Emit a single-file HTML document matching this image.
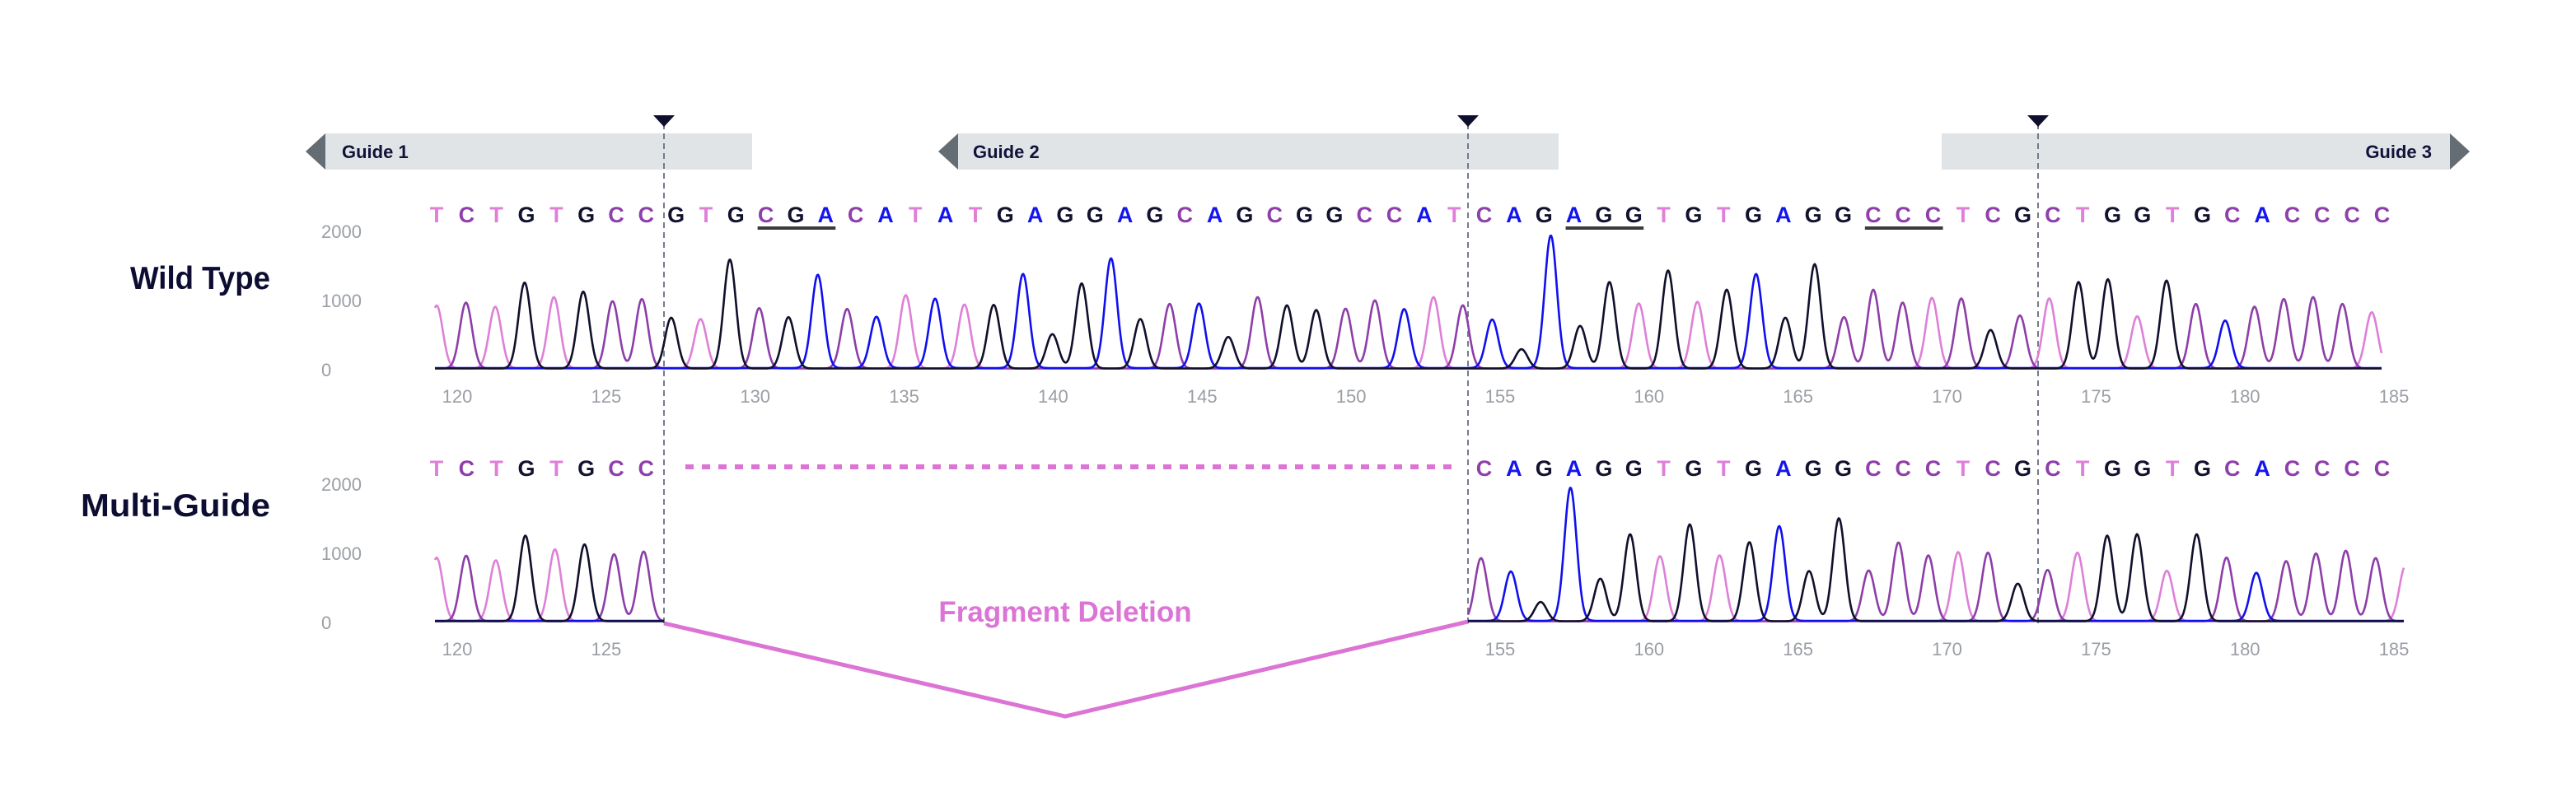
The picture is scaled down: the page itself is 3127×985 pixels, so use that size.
<!DOCTYPE html>
<html><head><meta charset="utf-8">
<style>
html,body{margin:0;padding:0;background:#fff;}
svg{display:block;font-family:"Liberation Sans",Arial,sans-serif;}
</style></head>
<body>
<svg id="chart" width="3127" height="985" viewBox="0 0 3127 985" xmlns="http://www.w3.org/2000/svg">
<rect x="0" y="0" width="3127" height="985" fill="#fff"/>
<g id="guides">
  <g>
    <rect x="395" y="162" width="518" height="44" fill="#e1e4e7"/>
    <polygon points="395,162 395,206 371,184" fill="#646c74"/>
    <text x="415" y="192" font-size="22" font-weight="bold" fill="#12123a">Guide 1</text>
  </g>
  <g>
    <rect x="1163" y="162" width="729" height="44" fill="#e1e4e7"/>
    <polygon points="1163,162 1163,206 1139,184" fill="#646c74"/>
    <text x="1181" y="192" font-size="22" font-weight="bold" fill="#12123a">Guide 2</text>
  </g>
  <g>
    <rect x="2357" y="162" width="617" height="44" fill="#e1e4e7"/>
    <polygon points="2974,162 2974,206 2998,184" fill="#646c74"/>
    <text x="2952" y="192" font-size="22" font-weight="bold" fill="#12123a" text-anchor="end">Guide 3</text>
  </g>
</g>
<text x="328" y="351" font-size="39" font-weight="bold" fill="#0d0d33" text-anchor="end" textLength="170" lengthAdjust="spacingAndGlyphs">Wild Type</text>
<text x="328" y="627" font-size="39" font-weight="bold" fill="#0d0d33" text-anchor="end" textLength="230" lengthAdjust="spacingAndGlyphs">Multi-Guide</text>
<text x="1293" y="755" font-size="35" font-weight="bold" fill="#dc74d6" text-anchor="middle">Fragment Deletion</text>
<polyline points="806,757 1293,870 1782,755" fill="none" stroke="#dc74d6" stroke-width="5"/>
<line x1="832" y1="567" x2="1770" y2="567" stroke="#dc74d6" stroke-width="6" stroke-dasharray="10 10"/>
<g id="cuts"></g>
<g id="underlines"></g>
<g id="top-axis"></g>
<g id="bot-axis"></g>
<g id="top-seq"></g>
<g id="bot-seq"></g>
<g id="top-trace"></g>
<g id="bot-trace"></g>
</svg>
<script>
// ---- data ----
const sequence = "TCTGTGCCGTGCGACATATGAGGAGCAGCGGCCATCAGAGGTGTGAGGCCCTCGCTGGTGCACCCC".split("");
const topHeights = [910,952,893,1242,1032,1111,972,1004,734,714,1575,873,742,1349,861,742,1060,1004,925,920,1361,496,1230,1587,714,933,933,456,1032,913,845,865,984,853,1032,913,702,278,1917,615,1250,940,1417,964,1139,1361,734,1508,742,1139,952,1020,1012,556,766,1012,1250,1290,754,1270,933,687,893,1004,1032,933];
const topTrailing = 813;
const botLeftHeights = [920,948,881,1238,1040,1111,968,1008];
const botRightHeights = [913,714,278,1925,615,1258,940,1400,952,1143,1369,726,1488,734,1139,952,1000,992,544,742,992,1238,1258,730,1258,920,694,869,980,1020,913];
const botTrailing = 800;
const botRightStart = 35;
const topTicks = [120,125,130,135,140,145,150,155,160,165,170,175,180,185];
const botTicks = [120,125,155,160,165,170,175,180,185];
const yTicks = [0,1000,2000];
const pamRanges = [[12,14],[39,41],[49,51]];

// ---- scales ----
const NS="http://www.w3.org/2000/svg";
const xAxis = v => 555 + (v-120)*36.17;
const yTop = v => 449 - v*0.084;
const yBot = v => 756 - v*0.084;
const letterX = i => 530 + i*36.33;
const colors = {T:"#df7fd9",C:"#8f3fab",G:"#12122f",A:"#1414f0"};
const traceColors = {T:"#de80d8",C:"#8d3ea8",G:"#10102c",A:"#1010ee"};

function mk(tag, attrs, parent){
  const e=document.createElementNS(NS,tag);
  for(const k in attrs) e.setAttribute(k,attrs[k]);
  parent.appendChild(e); return e;
}

function drawAxis(gid, ticks, yf){
  const g=document.getElementById(gid);
  yTicks.forEach(v=>{
    const t=mk("text",{x:390,y:yf(v)+8,"font-size":22,fill:"#9a9ea5"},g);
    
    
    t.textContent=v;
  });
  ticks.forEach(v=>{
    const t=mk("text",{x:xAxis(v),y:yf(0)+40,"font-size":22,fill:"#9a9ea5","text-anchor":"middle"},g);
    
    
    t.textContent=v;
  });
}
drawAxis("top-axis", topTicks, yTop);
drawAxis("bot-axis", botTicks, yBot);

function drawSeq(gid, y, filter){
  const g=document.getElementById(gid);
  sequence.forEach((b,i)=>{
    if(!filter(i)) return;
    const t=mk("text",{x:letterX(i),y:y,"font-size":27,"font-weight":"bold",fill:colors[b],"text-anchor":"middle"},g);
    
    
    t.textContent=b;
  });
}
drawSeq("top-seq",270,()=>true);
drawSeq("bot-seq",578,i=>i<8||i>=botRightStart);

const ug=document.getElementById("underlines");
pamRanges.forEach(r=>{
  const l=mk("rect",{x:letterX(r[0]-1)-10,y:275,width:letterX(r[1]-1)-letterX(r[0]-1)+22,height:4,fill:"#3b3b3b"},ug);
  
  
});

const cg=document.getElementById("cuts");
const cutXs=[806,1782,2474];
cutXs.forEach(cx=>{
  const l=mk("line",{x1:cx,y1:150,x2:cx,y2:758,stroke:"#767b8c","stroke-width":2,"stroke-dasharray":"7 5"},cg);
  
  
  const p=mk("polygon",{points:`${cx-13},140 ${cx+13},140 ${cx},154`,fill:"#0e0e2e"},cg);
  
  
});

const SIG=7.4;
function drawTrace(gid, peaks, x0, x1, yf){
  const g=document.getElementById(gid);
  ["T","C","A","G"].forEach(ch=>{
    const pk=peaks.filter(p=>p.b===ch);
    let d="";
    for(let x=x0;x<=x1;x+=1){
      let v=18+(ch==="A"?6:0);
      pk.forEach(p=>{const dx=x-p.x; if(Math.abs(dx)<45) v+=p.h*Math.exp(-dx*dx/(2*SIG*SIG));});
      d+=(x===x0?"M":"L")+x+","+yf(v).toFixed(1);
    }
    const path=mk("path",{d:d,fill:"none",stroke:traceColors[ch],"stroke-width":2.6,"stroke-linejoin":"round"},g);
    
    
  });
}
const toPx = u => xAxis(u);
const topPeaks = topHeights.map((h,i)=>({b:sequence[i],h:h,x:toPx(119.31+i*0.984)}));
topPeaks.push({b:"T",h:topTrailing,x:toPx(119.31+66*0.984)});
drawTrace("top-trace", topPeaks, 528, 2891, yTop);

const botPeaks = botLeftHeights.map((h,i)=>({b:sequence[i],h:h,x:toPx(119.31+i*0.9925)}));
drawTrace("bot-trace", botPeaks, 528, 806, yBot);
const botPeaks2 = botRightHeights.map((h,k)=>({b:sequence[botRightStart+k],h:h,x:toPx(154.36+k*1.0008)}));
botPeaks2.push({b:"T",h:botTrailing,x:toPx(154.36+31*1.0008)});
drawTrace("bot-trace", botPeaks2, 1782, 2918, yBot);
</script>
</body></html>
